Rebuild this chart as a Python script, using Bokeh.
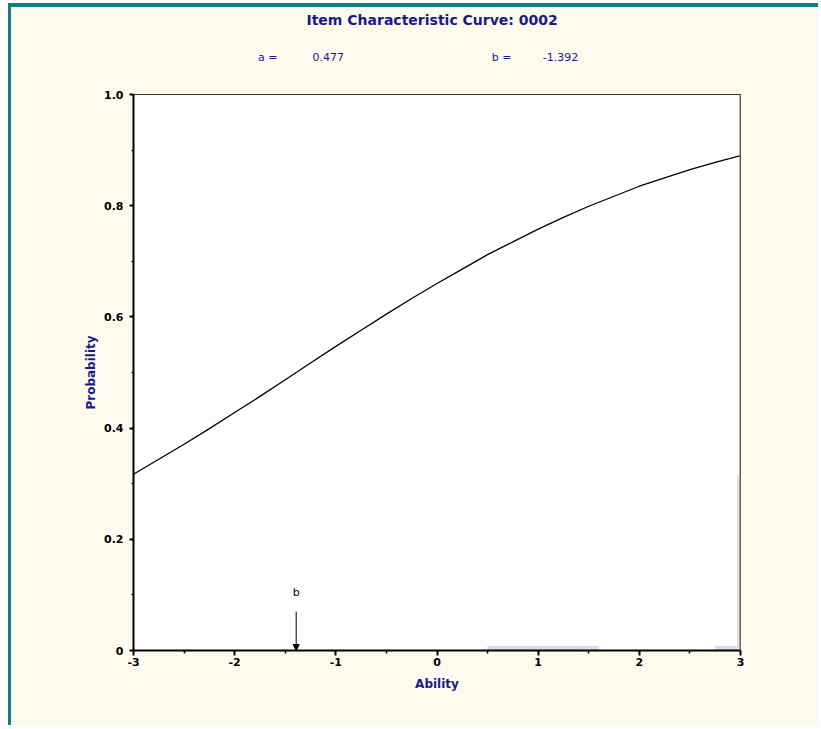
from bokeh.plotting import figure
from bokeh.models import FixedTicker, Label, Arrow, NormalHead, Span, LinearAxis
from bokeh.embed import file_html
from bokeh.resources import INLINE

# Item characteristic curve
theta = [-3.0, -2.75, -2.5, -2.25, -2.0, -1.75, -1.5, -1.25, -1.0, -0.75, -0.5, -0.25,
         0.0, 0.25, 0.5, 0.75, 1.0, 1.25, 1.5, 1.75, 2.0, 2.25, 2.5, 2.75, 3.0]
prob = [0.317, 0.344, 0.371, 0.399, 0.428, 0.457, 0.487, 0.517, 0.547, 0.576, 0.605, 0.633,
        0.660, 0.686, 0.712, 0.735, 0.758, 0.779, 0.799, 0.817, 0.835, 0.850, 0.865, 0.878, 0.890]

a_text = "0.477"
b_param = -1.392
b_text = "-1.392"
item_id = "0002"
title_text = "Item Characteristic Curve: " + item_id

x_ticks = [-3, -2, -1, 0, 1, 2, 3]
x_tick_labels = ["-3", "-2", "-1", "0", "1", "2", "3"]
x_minor = [-2.5, -1.5, -0.5, 0.5, 1.5, 2.5]
y_ticks = [0, 0.2, 0.4, 0.6, 0.8, 1.0]
y_tick_labels = ["0", "0.2", "0.4", "0.6", "0.8", "1.0"]
y_minor = [0.1, 0.3, 0.5, 0.7, 0.9]

# positions (ability scale) of the parameter readout above the plot
param_pos = [-1.344, 0.969]
NB = "\u00a0"
param_labels = ["a =" + NB * 10 + a_text, "b =" + NB * 9 + b_text]

# faint ability distribution bars
hist_left = [0.5, 2.75, 2.97]
hist_right = [1.6, 2.97, 3.0]
hist_height = [0.008, 0.008, 0.315]

NAVY = "#1a1a86"
CREAM = "#FFF9EE"
TEAL = "#0E8080"
FONT = "DejaVu Sans"

W, H = 810, 722
BL, BT = 122, 87
p = figure(width=W, height=H, x_range=(-3, 3), y_range=(0, 1),
           output_backend="svg", toolbar_location=None,
           min_border_left=BL, min_border_right=W - BL - 607,
           min_border_top=BT, min_border_bottom=H - BT - 556,
           background_fill_color="white", border_fill_color=CREAM)
p.styles = {"border-top": "4px solid " + TEAL, "border-left": "3px solid " + TEAL,
            "margin-left": "8px", "margin-top": "3px"}
p.grid.visible = False
p.outline_line_color = "#333333"
p.outline_line_width = 1

p.quad(left=hist_left, right=hist_right, bottom=0, top=hist_height,
       fill_color="#DADAE2", line_color=None)

p.line(theta, prob, line_color="black", line_width=1.3)

p.add_layout(Span(location=3, dimension="height", line_color="#707070", line_width=2))

p.add_layout(Arrow(x_start=b_param, y_start=0.07, x_end=b_param, y_end=0.0,
                   line_color="black", line_width=1,
                   end=NormalHead(size=6, fill_color="black", line_color="black")))
p.add_layout(Label(x=b_param, y=0.104, text="b", text_align="center", text_baseline="middle",
                   text_font=FONT, text_font_size="11px", text_color="black"))

xa = p.below[0]
ya = p.left[0]

for ax in (xa, ya):
    ax.axis_line_color = "black"
    ax.axis_line_width = 2
    ax.major_tick_line_color = "black"
    ax.major_tick_line_width = 2
    ax.minor_tick_line_color = "black"
    ax.minor_tick_line_width = 1.5
    ax.major_tick_in = 0
    ax.minor_tick_in = 0
    ax.major_label_text_font = FONT
    ax.major_label_text_font_size = "11px"
    ax.major_label_text_font_style = "bold"
    ax.major_label_text_color = "black"
    ax.axis_label_text_font = FONT
    ax.axis_label_text_font_size = "12px"
    ax.axis_label_text_font_style = "bold"
    ax.axis_label_text_color = NAVY

xa.ticker = FixedTicker(ticks=x_ticks, minor_ticks=x_minor)
xa.major_label_overrides = {t: l for t, l in zip(x_ticks, x_tick_labels)}
xa.major_tick_out = 5
xa.minor_tick_out = 3
xa.major_label_standoff = 2
xa.axis_label = "Ability"
xa.axis_label_standoff = 8

ya.ticker = FixedTicker(ticks=y_ticks, minor_ticks=y_minor)
ya.major_label_overrides = {t: l for t, l in zip(y_ticks, y_tick_labels)}
ya.major_tick_out = 4
ya.minor_tick_out = 2
ya.major_label_standoff = 6
ya.axis_label = "Probability"
ya.axis_label_standoff = 3

# parameter readout line and chart title as a bare axis above the plot
top_axis = LinearAxis(ticker=FixedTicker(ticks=param_pos, minor_ticks=[]),
                      major_label_overrides={t: l for t, l in zip(param_pos, param_labels)},
                      axis_line_color=None, major_tick_line_color=None,
                      minor_tick_line_color=None, major_tick_out=0, major_tick_in=0,
                      minor_tick_out=0, minor_tick_in=0, major_label_standoff=31,
                      major_label_text_font=FONT, major_label_text_font_size="11px",
                      major_label_text_font_style="normal",
                      major_label_text_color=NAVY,
                      axis_label=title_text + NB * 2, axis_label_standoff=20,
                      axis_label_text_font=FONT, axis_label_text_font_size="14px",
                      axis_label_text_font_style="bold", axis_label_text_color=NAVY)
p.add_layout(top_axis, "above")

open("out.html", "w").write(file_html(p, INLINE))
